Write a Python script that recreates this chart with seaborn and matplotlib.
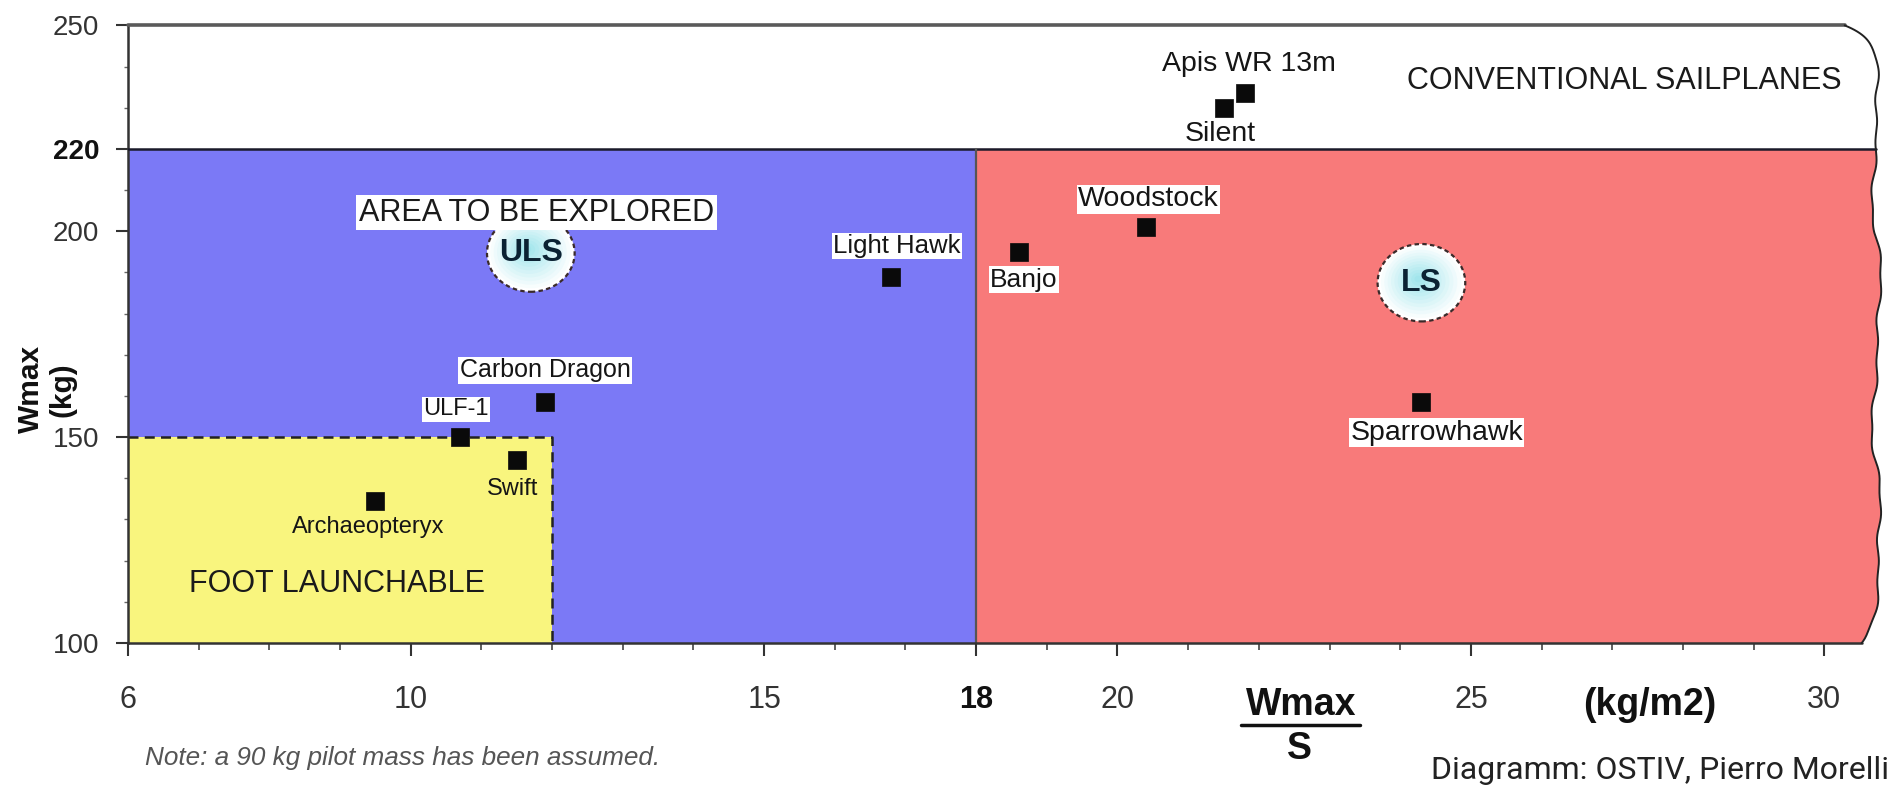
import numpy as np
import pandas as pd
import matplotlib
matplotlib.use("Agg")
import matplotlib.pyplot as plt
import seaborn as sns
from matplotlib import font_manager as fm
from matplotlib.patches import Ellipse, Polygon, Rectangle
from matplotlib.lines import Line2D

# ---------------- data ----------------
gliders = ["Archaeopteryx", "ULF-1", "Swift", "Carbon Dragon", "Light Hawk",
           "Banjo", "Woodstock", "Silent", "Apis WR 13m", "Sparrowhawk"]
wing_loading = [9.5, 10.7, 11.5, 11.9, 16.8, 18.6, 20.4, 21.5, 21.8, 24.3]   # Wmax/S (kg/m2)
wmax = [134.5, 150.0, 144.5, 158.5, 189.0, 195.0, 201.0, 230.0, 233.5, 158.5]  # Wmax (kg)

x_major = [6, 10, 15, 18, 20, 25, 30]
y_major = [100, 150, 200, 220, 250]
bold_x = [18]
bold_y = [220]

# class boundaries
ws_min, ws_max = 6, 31
w_min, w_max = 100, 250
foot_ws, foot_w = 12, 150       # foot launchable limits
uls_ls_ws = 18                  # ULS / LS border
sail_w = 220                    # conventional sailplanes above

classes = ["ULS", "LS"]
class_ws = [11.7, 24.3]
class_w = [194.7, 187.5]

df = pd.DataFrame({"glider": gliders, "ws": wing_loading, "w": wmax})

# ---------------- style ----------------
sns.set_theme(style="white")
plt.rcParams["font.family"] = ["Liberation Sans", "DejaVu Sans"]
installed = {f.name for f in fm.fontManager.ttflist}
narrow_ok = "Liberation Sans Narrow" in installed
ytick_family = "Liberation Sans Narrow" if narrow_ok else "Liberation Sans"
ytick_size = 23 if narrow_ok else 20

BLUE = "#7B79F6"
RED = "#F87A7A"
YELLOW = "#F9F57E"

fig = plt.figure(figsize=(18.95, 7.88), dpi=100)
ax = fig.add_axes([0.0675, 0.184, 0.9325, 0.7838])
ax.set_xlim(ws_min, ws_max)
ax.set_ylim(w_min, w_max)

# wavy (torn) right edge
ye = np.linspace(w_min, w_max, 400)
xe = (30.74 + 0.05 * np.sin(ye / 9.0) + 0.03 * np.sin(ye / 4.3 + 1.0)
      + 0.015 * np.sin(ye / 1.7)
      - 0.5 * np.exp(-(w_max - ye) / 4.0) - 0.15 * np.exp(-(ye - w_min) / 3.0))

# regions
ax.add_patch(Rectangle((ws_min, w_min), uls_ls_ws - ws_min, sail_w - w_min,
                       facecolor=BLUE, edgecolor="none", zorder=0))
mask = ye <= sail_w
red_poly = np.vstack([[uls_ls_ws, w_min], [uls_ls_ws, sail_w],
                      np.column_stack([xe[mask][::-1], ye[mask][::-1]])])
ax.add_patch(Polygon(red_poly, closed=True, facecolor=RED, edgecolor="none", zorder=0))
ax.add_patch(Rectangle((ws_min, w_min), foot_ws - ws_min, foot_w - w_min,
                       facecolor=YELLOW, edgecolor="none", zorder=1))
ax.plot([ws_min, foot_ws, foot_ws], [foot_w, foot_w, w_min], color="#222222",
        lw=1.8, ls=(0, (4, 2.5)), zorder=2)

# frame lines
x220 = np.interp(sail_w, ye, xe)
ax.plot([ws_min, x220], [sail_w, sail_w], color="#1a1a2a", lw=1.8, zorder=3)
ax.plot([uls_ls_ws, uls_ls_ws], [w_min, sail_w], color="#555555", lw=1.6, zorder=3)
ax.plot([ws_min, xe[-1]], [w_max, w_max], color="#5a5a5a", lw=2.6, zorder=3, clip_on=False)
ax.plot([ws_min, xe[0]], [w_min, w_min], color="#333333", lw=1.8, zorder=3, clip_on=False)
ax.plot(xe, ye, color="#222222", lw=1.4, zorder=3, clip_on=False)

for s in ["top", "right", "bottom"]:
    ax.spines[s].set_visible(False)
ax.spines["left"].set_color("#333333")
ax.spines["left"].set_linewidth(1.8)

# ticks
ax.set_xticks(x_major)
ax.set_xticks(np.arange(ws_min, 31, 1), minor=True)
ax.set_yticks(y_major)
ax.set_yticks(np.arange(w_min, w_max + 1, 10), minor=True)
ax.tick_params(axis="x", which="major", direction="out", length=9, width=1.5,
               color="#333333", pad=21, labelsize=22, labelcolor="#333333", bottom=True)
ax.tick_params(axis="x", which="minor", direction="out", length=5, width=1.2,
               color="#444444", bottom=True)
ax.tick_params(axis="y", which="major", direction="out", length=8.5, width=1.5,
               color="#333333", pad=12, labelcolor="#333333", left=True)
ax.tick_params(axis="y", which="minor", direction="out", length=3, width=1.0,
               color="#666666", left=True)
for lab in ax.get_xticklabels():
    if lab.get_text() and float(lab.get_text()) in bold_x:
        lab.set_fontweight("bold"); lab.set_color("#111111")
for lab in ax.get_yticklabels():
    lab.set_family([ytick_family, "Liberation Sans"])
    lab.set_fontsize(ytick_size)
    if lab.get_text() and float(lab.get_text()) in bold_y:
        lab.set_fontweight("bold"); lab.set_color("#111111")

# data points
sns.scatterplot(data=df, x="ws", y="w", marker="s", s=150, color="#0a0a0a",
                edgecolor="#0a0a0a", linewidth=0.5, ax=ax, zorder=6, legend=False)
ax.set_xlabel(""); ax.set_ylabel("")

# point labels (layout: offsets in points, font sizes)
label_offsets = {
    "Archaeopteryx": (-5, -19), "ULF-1": (-3, 20), "Swift": (-3, -21),
    "Carbon Dragon": (0, 23), "Light Hawk": (4, 22), "Banjo": (4, -20),
    "Woodstock": (2, 20), "Silent": (-2, -19), "Apis WR 13m": (3, 21),
    "Sparrowhawk": (11, -22),
}
label_sizes = {
    "Archaeopteryx": 17, "ULF-1": 17, "Swift": 17, "Carbon Dragon": 18,
    "Light Hawk": 18.5, "Banjo": 19, "Woodstock": 20.5, "Silent": 20.5,
    "Apis WR 13m": 20.5, "Sparrowhawk": 20.5,
}
boxed = {"ULF-1", "Carbon Dragon", "Light Hawk", "Banjo", "Woodstock", "Sparrowhawk"}
for g, xv, yv in zip(gliders, wing_loading, wmax):
    dx, dy = label_offsets[g]
    kw = {}
    if g in boxed:
        kw["bbox"] = dict(facecolor="white", edgecolor="none", pad=1.0)
    ax.annotate(g, (xv, yv), xytext=(dx, dy), textcoords="offset points",
                ha="center", va="center", fontsize=label_sizes[g], color="#151515",
                zorder=7, **kw)

# class bubbles
for name, cx, cy in zip(classes, class_ws, class_w):
    w0, h0 = 1.24, 18.8
    for k in range(12, 0, -1):
        f = k / 12.0
        c = np.array([1.0, 1.0, 1.0]) * f + np.array([0.60, 0.89, 0.92]) * (1 - f)
        ax.add_patch(Ellipse((cx - 0.05 * (1 - f), cy + 1.0 * (1 - f)), w0 * f, h0 * f,
                             facecolor=c, edgecolor="none", zorder=4))
    ax.add_patch(Ellipse((cx, cy), w0, h0, facecolor="none", edgecolor="#3a2a2a",
                         lw=1.6, ls=(0, (2, 1.5)), zorder=5))
    ax.text(cx, cy, name, ha="center", va="center", fontsize=23, fontweight="bold",
            color="#0b2233", zorder=6)

# region labels
ax.text(11.78, 204.5, "AREA TO BE EXPLORED", ha="center", va="center", fontsize=22,
        color="#1a1a1a", zorder=7,
        bbox=dict(facecolor="white", edgecolor="none", pad=2.0))
ax.text(8.96, 114.4, "FOOT LAUNCHABLE", ha="center", va="center", fontsize=22,
        color="#1a1a1a", zorder=7)
ax.text(27.17, 236.6, "CONVENTIONAL SAILPLANES", ha="center", va="center", fontsize=22,
        color="#1a1a1a", zorder=7)

# axis titles
fig.text(0.0166, 0.506, "Wmax", rotation=90, ha="center", va="center",
         fontsize=21.5, fontweight="bold", color="#111111")
fig.text(0.0330, 0.506, "(kg)", rotation=90, ha="center", va="center",
         fontsize=21.5, fontweight="bold", color="#111111")
fig.text(0.6869, 0.1058, "Wmax", ha="center", va="center", fontsize=27,
         fontweight="bold", color="#111111")
fig.add_artist(Line2D([0.655, 0.7175], [0.0805, 0.0805], transform=fig.transFigure,
                      color="#111111", lw=2.5))
fig.text(0.6856, 0.049, "S", ha="center", va="center", fontsize=27,
         fontweight="bold", color="#111111")
fig.text(0.8705, 0.1058, "(kg/m2)", ha="center", va="center", fontsize=27,
         fontweight="bold", color="#111111")

# notes
fig.text(0.0765, 0.0383, "Note: a 90 kg pilot mass has been assumed.", ha="left",
         va="center", fontsize=18.8, style="italic", color="#555555")
fig.text(0.997, 0.011, "Diagramm: OSTIV, Pierro Morelli", ha="right", va="baseline",
         fontsize=23, color="#222222", family=["Roboto", "DejaVu Sans"])

fig.savefig("out.png", dpi=100)
